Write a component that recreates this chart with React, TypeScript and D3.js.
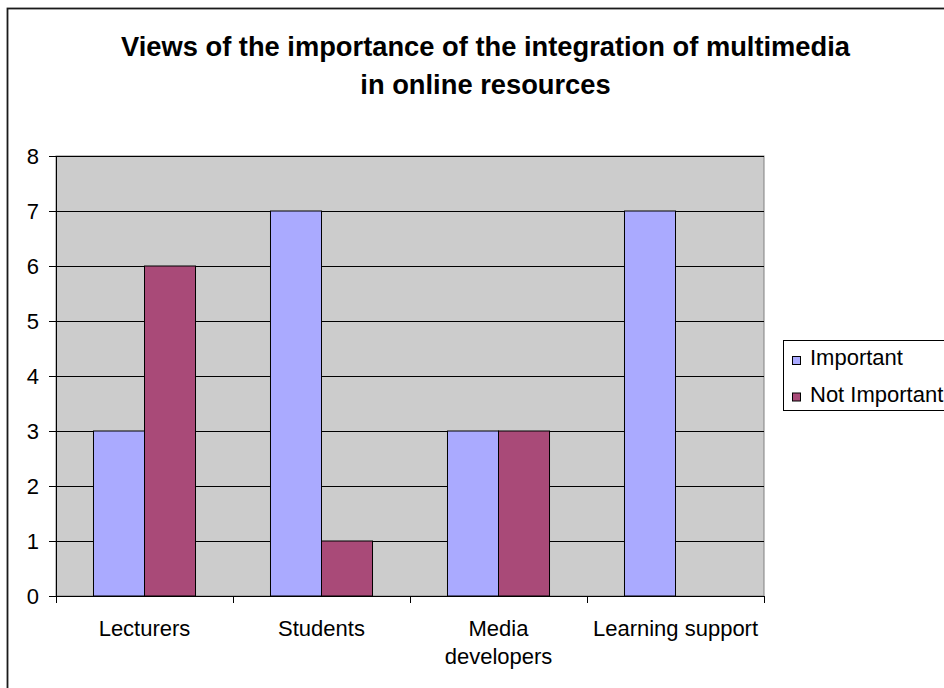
import React from "react";
import * as d3 from "d3";

const categories = ["Lecturers", "Students", "Media developers", "Learning support"];
const tickLabels = ["Lecturers", "Students", "Media\ndevelopers", "Learning support"];
const seriesNames = ["Important", "Not Important"];
const important = [3, 7, 3, 7];
const notImportant = [6, 1, 3, 0];
const yTicks = [0, 1, 2, 3, 4, 5, 6, 7, 8];
const titleLines = ["Views of the importance of the integration of multimedia", "in online resources"];

const colors = ["#AAAAFF", "#A94A78"];
const FONT = "'Liberation Sans', Arial, sans-serif";

export default function App() {
  const W = 944, H = 688;
  const plot = { left: 56, right: 764, top: 156, bottom: 596 };
  const x = d3.scaleBand<string>().domain(categories).range([plot.left, plot.right]).paddingInner(0).paddingOuter(0);
  const inner = d3.scaleBand<string>().domain(seriesNames).range([0, x.bandwidth()]).paddingInner(0).paddingOuter(0.735);
  const y = d3.scaleLinear().domain([0, 8]).range([plot.bottom, plot.top]);
  const series = [important, notImportant];
  const boundaries = [...categories.map((c) => x(c) as number), plot.right];
  const fs = 22;

  return (
    <svg width={W} height={H} style={{ position: "absolute", left: 0, top: 0 }} fontFamily={FONT}>
      <rect x={0} y={0} width={W} height={H} fill="#fff" />
      <rect x={7.5} y={8.5} width={1000} height={1000} fill="none" stroke="#1a1a1a" strokeWidth={1.8} />
      {titleLines.map((t, i) => (
        <text key={i} x={485.5} y={56 + i * 37.5} textAnchor="middle" fontWeight="bold" fontSize={27.3} fill="#000">
          {t}
        </text>
      ))}
      <rect x={plot.left} y={plot.top} width={plot.right - plot.left} height={plot.bottom - plot.top} fill="#CCCCCC" stroke="#808080" strokeWidth={1} />
      {yTicks.map((t) => (
        <g key={t}>
          <line x1={plot.left} x2={plot.right} y1={Math.round(y(t)) + 0.5} y2={Math.round(y(t)) + 0.5} stroke="#000" strokeWidth={1} />
          <line x1={plot.left - 7} x2={plot.left} y1={Math.round(y(t)) + 0.5} y2={Math.round(y(t)) + 0.5} stroke="#000" strokeWidth={1} />
          <text x={39} y={y(t) + 7.8} textAnchor="end" fontSize={fs} fill="#000">{t}</text>
        </g>
      ))}
      {series.map((vals, si) =>
        vals.map((v, ci) =>
          v > 0 ? (
            <rect
              key={`${si}-${ci}`}
              x={(x(categories[ci]) as number) + (inner(seriesNames[si]) as number)}
              y={y(v)}
              width={inner.bandwidth()}
              height={y(0) - y(v)}
              fill={colors[si]}
              stroke="#000"
              strokeWidth={1}
            />
          ) : null
        )
      )}
      <line x1={plot.left + 0.5} x2={plot.left + 0.5} y1={plot.top} y2={plot.bottom + 7} stroke="#000" strokeWidth={1} />
      <line x1={plot.left} x2={plot.right} y1={plot.bottom + 0.5} y2={plot.bottom + 0.5} stroke="#000" strokeWidth={1} />
      {boundaries.map((bx, i) => (
        <line key={i} x1={bx + 0.5} x2={bx + 0.5} y1={plot.bottom} y2={plot.bottom + 7} stroke="#000" strokeWidth={1} />
      ))}
      {categories.map((c, i) => (
        <text key={c} x={(x(c) as number) + x.bandwidth() / 2} y={636} textAnchor="middle" fontSize={fs} fill="#000">
          {tickLabels[i].split("\n").map((ln, li) => (
            <tspan key={li} x={(x(c) as number) + x.bandwidth() / 2} dy={li === 0 ? 0 : 28}>{ln}</tspan>
          ))}
        </text>
      ))}
      <rect x={783.5} y={340.5} width={300} height={70} fill="#fff" stroke="#000" strokeWidth={1} />
      {seriesNames.map((s, i) => (
        <g key={s}>
          <rect x={792.5} y={356.5 + i * 36.5} width={8} height={8} fill={colors[i]} stroke="#000" strokeWidth={1} />
          <text x={810} y={365 + i * 36.5} fontSize={fs} fill="#000">{s}</text>
        </g>
      ))}
    </svg>
  );
}
